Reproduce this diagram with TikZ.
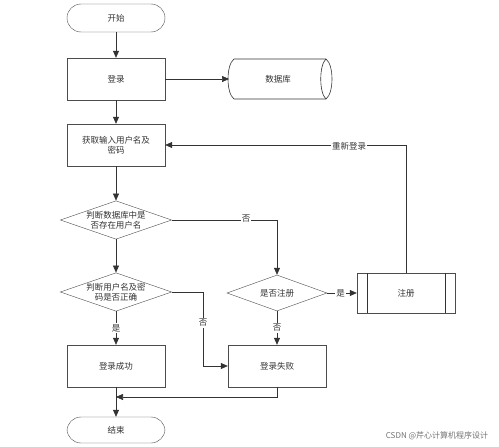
\documentclass[tikz,border=0pt]{standalone}
\usepackage{fontspec}
\setmainfont{Noto Sans CJK SC}
\usetikzlibrary{arrows.meta,shapes.geometric}
\begin{document}
\begin{tikzpicture}[x=1pt,y=-1pt,
  every node/.style={font=\fontsize{8.5}{10}\selectfont, text=black!80},
  box/.style={draw=black!70, minimum width=98pt, minimum height=42pt, align=center},
  term/.style={draw=black!70, rounded corners=14pt, minimum width=98pt, minimum height=28pt},
  dia/.style={draw=black!70, diamond, aspect=2.9, minimum width=100pt, minimum height=36pt, inner sep=0pt, align=center},
  line/.style={draw=black!80, line width=0.6pt},
  arr/.style={line, -{Triangle[length=7pt,width=6pt]}},
  lab/.style={fill=white, inner sep=1pt}]
\fill[white] (0,0) rectangle (499,447);
\node[term] (start) at (116,18) {开始};
\node[box] (login) at (116,79) {登录};
\draw[line] (234,59) -- (326,59) .. controls (334,65) and (334,93) .. (326,99) -- (234,99)
  .. controls (226,93) and (226,65) .. (234,59) -- cycle;
\draw[line] (326,59) .. controls (319,65) and (319,93) .. (326,99);
\node (db) at (278,79) {数据库};
\coordinate (dbl) at (229,79);
\node[box] (input) at (116,145) {获取输入用户名及\\密码};
\node[dia] (d1) at (116,220) {判断数据库中是\\否存在用户名};
\node[dia] (d2) at (116,292) {判断用户名及密\\码是否正确};
\node[dia, minimum height=36pt] (d3) at (277,293) {是否注册};
\node[box, minimum height=40pt] (reg) at (406,293) {注册};
\draw[line] (367,273) -- (367,313) (445,273) -- (445,313);
\node[box] (ok) at (116,366) {登录成功};
\node[box] (fail) at (277,366) {登录失败};
\node[term, minimum height=26pt] (end) at (116,430) {结束};
\coordinate (j) at (116,397);

\draw[arr] (start) -- (login);
\draw[arr] (login) -- (dbl);
\draw[arr] (login) -- (input);
\draw[arr] (input) -- (d1);
\draw[arr] (d1) -- (d2);
\draw[arr] (d1.east) -| (d3.north);
\node[lab] (no1) at (246,219) {否};
\draw[arr] (d2) -- node[lab]{是} (ok);
\draw[arr] (d2.east) -| (203,366) -- (fail.west);
\node[lab] (no2) at (203,323) {否};
\draw[arr] (d3) -- node[lab, pos=0.45]{是} (reg);
\draw[arr] (d3) -- node[lab]{否} (fail);
\draw[arr] (reg.north) |- (input.east);
\node[lab] (relog) at (349,146) {重新登录};
\draw[arr] (ok) -- (end);
\draw[arr] (fail.south) |- (j);
\node[font=\fontsize{8}{10}\selectfont, text=black!55] (wm) at (437,436) {CSDN @芹心计算机程序设计};
\end{tikzpicture}
\end{document}
